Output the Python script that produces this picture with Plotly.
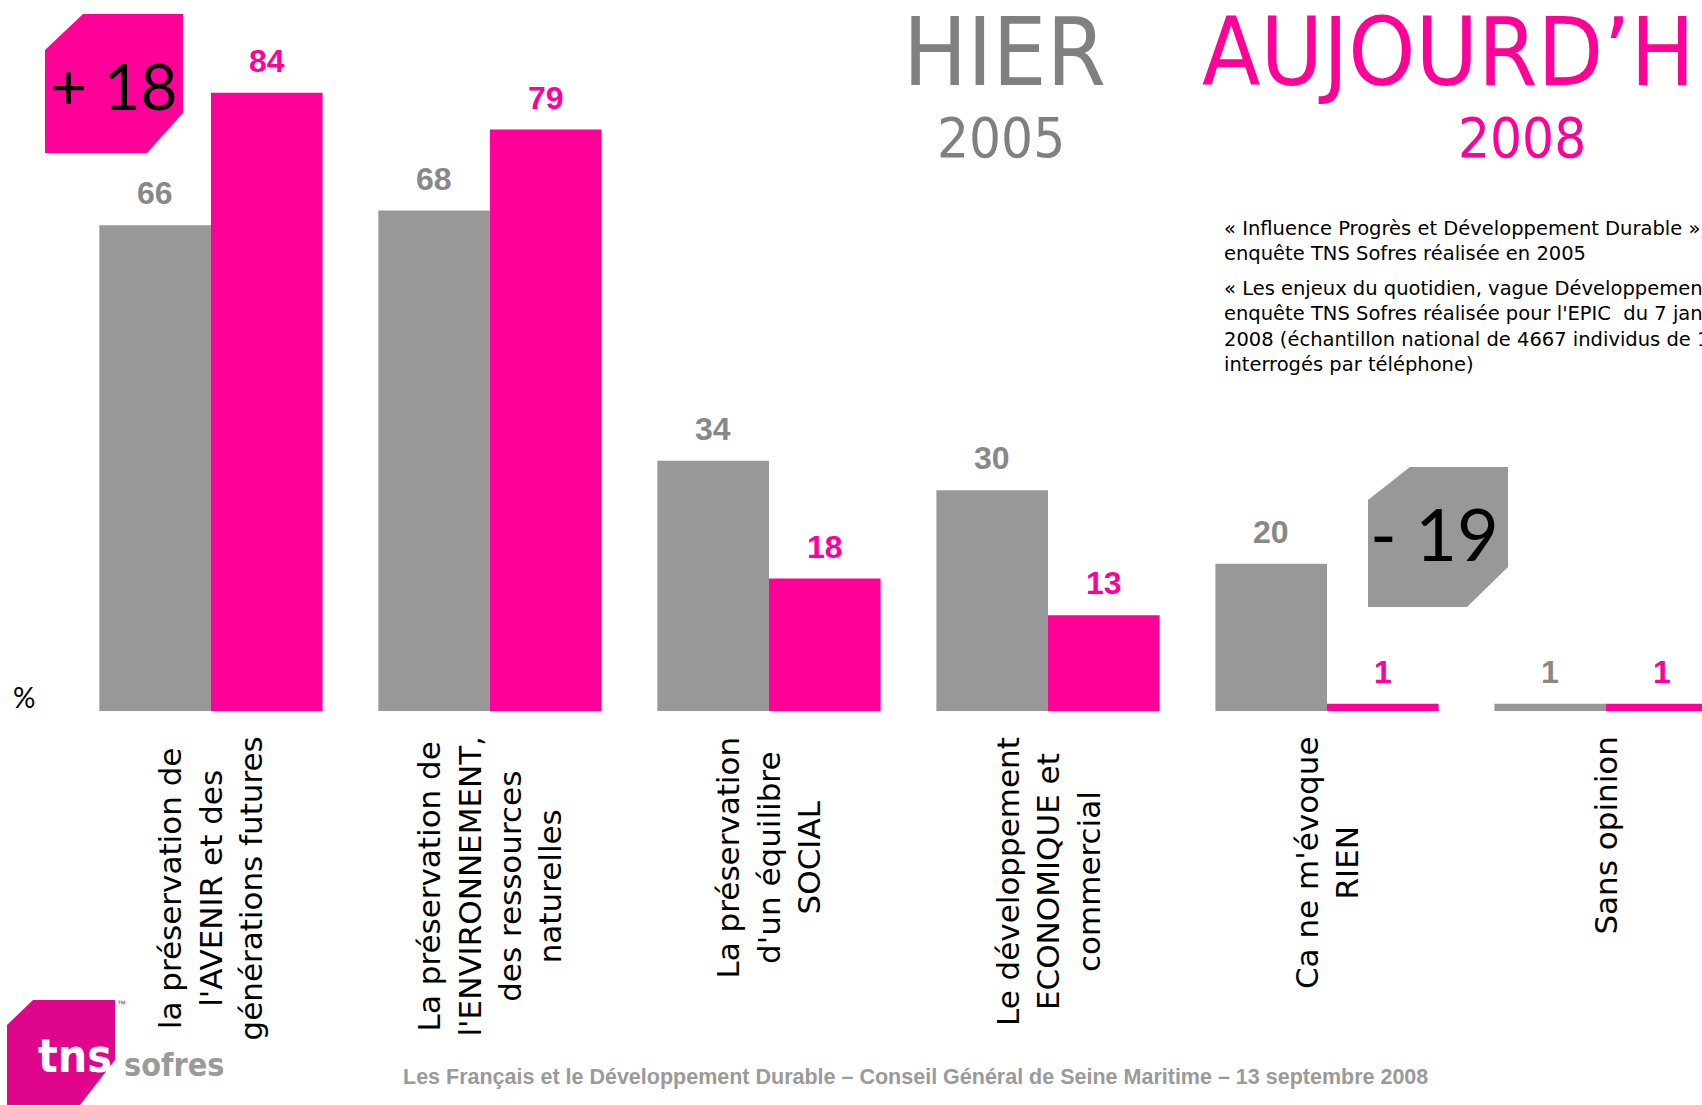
import plotly.graph_objects as go

# ---------------- data ----------------
categories = [
    "la préservation de<br>l'AVENIR et des<br>générations futures",
    "La préservation de<br>l'ENVIRONNEMENT,<br>des ressources<br>naturelles",
    "La préservation<br>d'un équilibre<br>SOCIAL",
    "Le développement<br>ECONOMIQUE et<br>commercial",
    "Ca ne m'évoque<br>RIEN",
    "Sans opinion",
]
values_2005 = [66, 68, 34, 30, 20, 1]
values_2008 = [84, 79, 18, 13, 1, 1]
series_names = ["2005", "2008"]
badge_texts = ["+ 18", "- 19"]

GRAY = "#989898"
GRAY_TXT = "#888888"
PINK = "#FF0099"
LOGO_PINK = "#E0068B"

W, H = 1702, 1105


def px(x, y):
    return f"{x / W:.5f},{1 - y / H:.5f}"


def path(points):
    return "M" + " L".join(px(x, y) for x, y in points) + " Z"


fig = go.Figure()
fig.add_trace(go.Bar(x=categories, y=values_2005, name=series_names[0],
                     marker=dict(color=GRAY, line=dict(width=0))))
fig.add_trace(go.Bar(x=categories, y=values_2008, name=series_names[1],
                     marker=dict(color=PINK, line=dict(width=0))))

annotations = []
# value labels
for i, (a, b) in enumerate(zip(values_2005, values_2008)):
    annotations.append(dict(x=i - 0.2, y=a, xref="x", yref="y", text=f"<b>{a}</b>",
                            showarrow=False, yanchor="bottom", yshift=12,
                            font=dict(family="Liberation Sans, Arial", size=32, color=GRAY_TXT)))
    annotations.append(dict(x=i + 0.2, y=b, xref="x", yref="y", text=f"<b>{b}</b>",
                            showarrow=False, yanchor="bottom", yshift=12,
                            font=dict(family="Liberation Sans, Arial", size=32, color=PINK)))
# rotated category labels
for i, c in enumerate(categories):
    annotations.append(dict(x=i, y=-3.2, xref="x", yref="y", text=c, textangle=-90,
                            showarrow=False, xanchor="center", yanchor="top", align="center",
                            font=dict(family="DejaVu Sans, sans-serif", size=31, color="#000000")))

NARROW = "Liberation Sans Narrow, DejaVu Sans Condensed, Arial Narrow, sans-serif"


def paper_ann(text, x, y, size, color, family, xanchor="center", yanchor="middle", align="center"):
    return dict(text=text, x=x / W, y=1 - y / H, xref="paper", yref="paper", showarrow=False,
                xanchor=xanchor, yanchor=yanchor, align=align,
                font=dict(family=family, size=size, color=color))


annotations += [
    paper_ann("HIER", 1004, 52, 95, "#808080", NARROW),
    paper_ann("AUJOURD’HUI", 1200, 52, 95, PINK, NARROW, xanchor="left"),
    paper_ann("2005", 1001, 137, 56, "#808080", NARROW),
    paper_ann("2008", 1522, 137, 56, PINK, NARROW),
    paper_ann("« Influence Progrès et Développement Durable »,<br>enquête TNS Sofres réalisée en 2005",
              1222, 215, 19.5, "#000000", "DejaVu Sans, sans-serif", xanchor="left", yanchor="top", align="left"),
    paper_ann("« Les enjeux du quotidien, vague Développement Durable »,<br>"
              "enquête TNS Sofres réalisée pour l'EPIC  du 7 janvier<br>"
              "2008 (échantillon national de 4667 individus de 15 ans<br>"
              "interrogés par téléphone)",
              1222, 275, 19.5, "#000000", "DejaVu Sans, sans-serif", xanchor="left", yanchor="top", align="left"),
    paper_ann("%", 24, 697, 28, "#000000", "Lato, sans-serif"),
    paper_ann(badge_texts[0], 114, 86, 64, "#000000", "Lato, sans-serif"),
    paper_ann(badge_texts[1], 1434, 533, 72, "#000000", "Lato, sans-serif"),
    paper_ann("<b>tns</b>", 75, 1056, 46, "#FFFFFF", NARROW),
    paper_ann("<b>sofres</b>", 174, 1065, 32, "#9A9A9A", NARROW),
    paper_ann("™", 121, 1004, 9, LOGO_PINK, "Liberation Sans"),
    paper_ann("<b>Les Français et le Développement Durable – Conseil Général de Seine Maritime – 13 septembre 2008</b>",
              915, 1077, 21.5, "#9A9A9A", "Liberation Sans, Arial"),
]

shapes = [
    dict(type="path", xref="paper", yref="paper", layer="below", line=dict(width=0), fillcolor=PINK,
         path=path([(45, 50), (83, 14), (183, 14), (183, 113), (147, 153), (45, 153)])),
    dict(type="path", xref="paper", yref="paper", layer="below", line=dict(width=0), fillcolor=GRAY,
         path=path([(1368, 500), (1410, 467), (1508, 467), (1508, 567), (1467, 607), (1368, 607)])),
    dict(type="path", xref="paper", yref="paper", layer="below", line=dict(width=0), fillcolor=LOGO_PINK,
         path=path([(7, 1025), (33, 1000), (115, 1000), (115, 1060), (80, 1105), (7, 1105)])),
]

fig.update_layout(
    width=W, height=H,
    margin=dict(l=0, r=0, t=0, b=0, pad=0),
    paper_bgcolor="white", plot_bgcolor="white",
    barmode="group", bargap=0.2, bargroupgap=0,
    showlegend=False,
    xaxis=dict(type="category", range=[-0.756, 5.344], showgrid=False, zeroline=False,
               showticklabels=False, ticks="", showline=False, fixedrange=True),
    yaxis=dict(range=[-53.53, 96.6], showgrid=False, zeroline=False,
               showticklabels=False, ticks="", showline=False, fixedrange=True),
    annotations=annotations,
    shapes=shapes,
)

fig.write_html("out.html", config={"displayModeBar": False},
               post_script="document.body.style.margin='0';document.body.style.overflow='hidden';")
